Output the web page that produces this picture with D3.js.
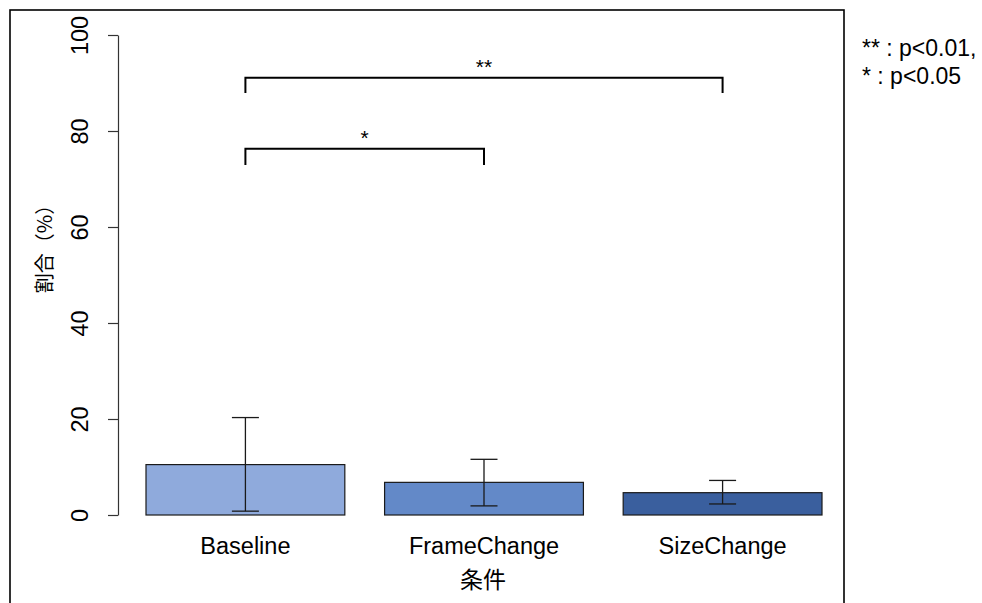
<!DOCTYPE html>
<html><head><meta charset="utf-8">
<script src="https://cdn.jsdelivr.net/npm/d3@7"></script>
<style>body{margin:0;background:#fff}svg{display:block}</style>
</head><body>
<script>
const categories = ["Baseline", "FrameChange", "SizeChange"];
const means = [10.5, 6.8, 4.65];
const errLow = [0.8, 1.9, 2.3];
const errHigh = [20.3, 11.6, 7.2];
const barColors = ["#8FAADC", "#6389C8", "#3A5F9E"];
const yTicks = [0, 20, 40, 60, 80, 100];
const brackets = [
  {from: "Baseline", to: "SizeChange", top: 91.1, bottom: 87.9, label: "**"},
  {from: "Baseline", to: "FrameChange", top: 76.3, bottom: 72.9, label: "*"}
];
const legendLines = ["** : p<0.01,", "* : p<0.05"];

const W = 982, H = 603;
const svg = d3.select("body").append("svg").attr("width", W).attr("height", H);
const font = "'Liberation Sans', Arial, sans-serif";
const cjk = "'Noto Sans CJK JP', 'Noto Sans CJK SC', sans-serif";

// outer box
svg.append("rect").attr("x", 10).attr("y", 10).attr("width", 834).attr("height", 640)
  .attr("fill", "none").attr("stroke", "#000").attr("stroke-width", 1.6);

const y = d3.scaleLinear().domain([0, 100]).range([515, 35]);
const x = d3.scaleBand().domain(categories).range([146, 822]).paddingInner(1/6).paddingOuter(0);

// y axis
const yAxis = d3.axisLeft(y).tickValues(yTicks).tickSize(10).tickSizeOuter(0).tickFormat(d3.format("d"));
const ga = svg.append("g").attr("transform", "translate(118,0)").call(yAxis);
ga.select(".domain").attr("stroke", "#333").attr("stroke-width", 1.2);
ga.selectAll(".tick line").attr("stroke", "#333").attr("stroke-width", 1.2);
ga.selectAll(".tick text").remove();
ga.selectAll(".tick").append("text")
  .attr("transform", "translate(-30,0) rotate(-90)")
  .attr("text-anchor", "middle")
  .attr("fill", "#000")
  .style("font-family", font).style("font-size", "23.5px")
  .text(d => d);

// bars
svg.selectAll(".bar").data(categories).enter().append("rect")
  .attr("x", d => x(d)).attr("width", x.bandwidth())
  .attr("y", (d, i) => y(means[i])).attr("height", (d, i) => y(0) - y(means[i]))
  .attr("fill", (d, i) => barColors[i]).attr("stroke", "#1a1a1a").attr("stroke-width", 1.2);

// error bars
const cx = d => x(d) + x.bandwidth() / 2;
const eb = svg.selectAll(".eb").data(categories).enter().append("g").attr("stroke", "#1a1a1a").attr("stroke-width", 1.3);
eb.append("line").attr("x1", cx).attr("x2", cx).attr("y1", (d, i) => y(errLow[i])).attr("y2", (d, i) => y(errHigh[i]));
eb.append("line").attr("x1", d => cx(d) - 13.5).attr("x2", d => cx(d) + 13.5).attr("y1", (d, i) => y(errHigh[i])).attr("y2", (d, i) => y(errHigh[i]));
eb.append("line").attr("x1", d => cx(d) - 13.5).attr("x2", d => cx(d) + 13.5).attr("y1", (d, i) => y(errLow[i])).attr("y2", (d, i) => y(errLow[i]));

// x labels
svg.selectAll(".xl").data(categories).enter().append("text")
  .attr("x", cx).attr("y", 554).attr("text-anchor", "middle")
  .style("font-family", font).style("font-size", "23.5px").text(d => d);

// brackets
brackets.forEach(b => {
  const x1 = cx(b.from), x2 = cx(b.to);
  svg.append("path")
    .attr("d", `M${x1},${y(b.bottom)}V${y(b.top)}H${x2}V${y(b.bottom)}`)
    .attr("fill", "none").attr("stroke", "#000").attr("stroke-width", 2);
  svg.append("text").attr("x", (x1 + x2) / 2).attr("y", y(b.top) - 4)
    .attr("text-anchor", "middle").style("font-family", font).style("font-size", "21px").text(b.label);
});

// axis titles
svg.append("text").attr("transform", "translate(52,244) rotate(-90)").attr("text-anchor", "middle")
  .style("font-family", cjk).style("font-size", "20px").text("割合（%）");
svg.append("text").attr("x", 483).attr("y", 588).attr("text-anchor", "middle")
  .style("font-family", cjk).style("font-size", "23px").text("条件");

// legend
svg.selectAll(".lg").data(legendLines).enter().append("text")
  .attr("x", 862).attr("y", (d, i) => 56 + i * 28)
  .style("font-family", font).style("font-size", "23px").text(d => d);
</script>
</body></html>
